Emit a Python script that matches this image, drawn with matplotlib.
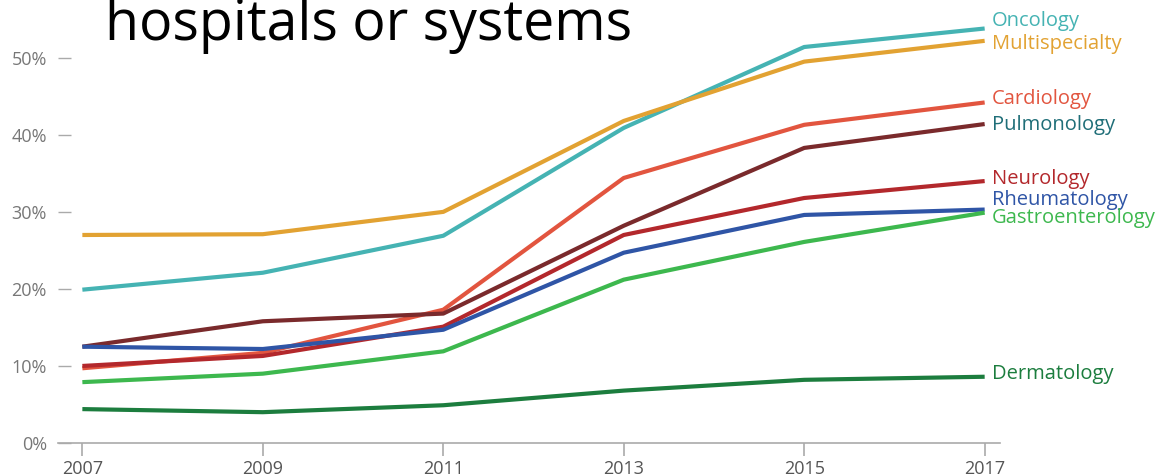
import matplotlib
matplotlib.use("Agg")
import matplotlib.pyplot as plt

years = [2007, 2009, 2011, 2013, 2015, 2017]
names = ["Oncology", "Multispecialty", "Cardiology", "Pulmonology",
         "Neurology", "Rheumatology", "Gastroenterology", "Dermatology"]
oncology = [19.9, 22.1, 26.9, 40.9, 51.4, 53.8]
multispecialty = [27.0, 27.1, 30.0, 41.8, 49.5, 52.2]
cardiology = [9.7, 11.7, 17.3, 34.4, 41.3, 44.2]
pulmonology = [12.5, 15.8, 16.8, 28.2, 38.3, 41.4]
neurology = [10.0, 11.3, 15.1, 27.0, 31.8, 34.0]
rheumatology = [12.5, 12.2, 14.7, 24.7, 29.6, 30.3]
gastroenterology = [7.9, 9.0, 11.9, 21.2, 26.1, 29.9]
dermatology = [4.4, 4.0, 4.9, 6.8, 8.2, 8.6]
series = [oncology, multispecialty, cardiology, pulmonology,
          neurology, rheumatology, gastroenterology, dermatology]
yticks = [0, 10, 20, 30, 40, 50]

line_colors = ["#45b3b3", "#e2a232", "#e2553f", "#7a2a2c",
               "#b3282c", "#2f55a6", "#3db84e", "#1c7d3e"]
label_colors = ["#45b3b3", "#e2a232", "#e2553f", "#1f6e78",
                "#b3282c", "#2f55a6", "#3db84e", "#1c7d3e"]
# label shift in pixels (up is positive), to keep the labels apart
label_dy = [8, -3, 3, -1, 2, 10, -5, 3]

fig = plt.figure(figsize=(11.63, 4.76), dpi=100)
ax = fig.add_axes([58/1163, 33/476, (1000-58)/1163, 1 - 33/476])

for vals, lc, tc, dy, name in zip(series, line_colors, label_colors, label_dy, names):
    ax.plot(years, vals, color=lc, lw=3, solid_capstyle="butt")
    ax.annotate(name, (years[-1], vals[-1]), xytext=(7, dy),
                textcoords="offset pixels", color=tc, fontsize=14.5,
                family="Open Sans", va="center", ha="left",
                annotation_clip=False)

ax.set_xlim(2006.73, 2017.17)
ax.set_ylim(0, 57.5)
ax.set_xticks(years)
ax.set_xticklabels([str(y) for y in years])
ax.set_yticks(yticks)
ax.set_yticklabels([f"{v}%" for v in yticks])

for s in ["top", "right", "left"]:
    ax.spines[s].set_visible(False)
ax.spines["bottom"].set_color("#aaaaaa")
ax.spines["bottom"].set_linewidth(1.2)
ax.tick_params(axis="x", direction="out", length=9, width=1.2, color="#aaaaaa",
               labelsize=13, labelcolor="#555555", pad=3)
ax.tick_params(axis="y", direction="in", length=9, width=1.0, color="#aaaaaa",
               labelsize=13, labelcolor="#777777", pad=8)
for lab in ax.get_xticklabels() + ax.get_yticklabels():
    lab.set_family("Open Sans")

fig.text(105/1163, 1 - 40/476, "hospitals or systems", fontsize=40,
         family="Open Sans", color="black", va="baseline", ha="left")

fig.savefig("out.png", dpi=100)
